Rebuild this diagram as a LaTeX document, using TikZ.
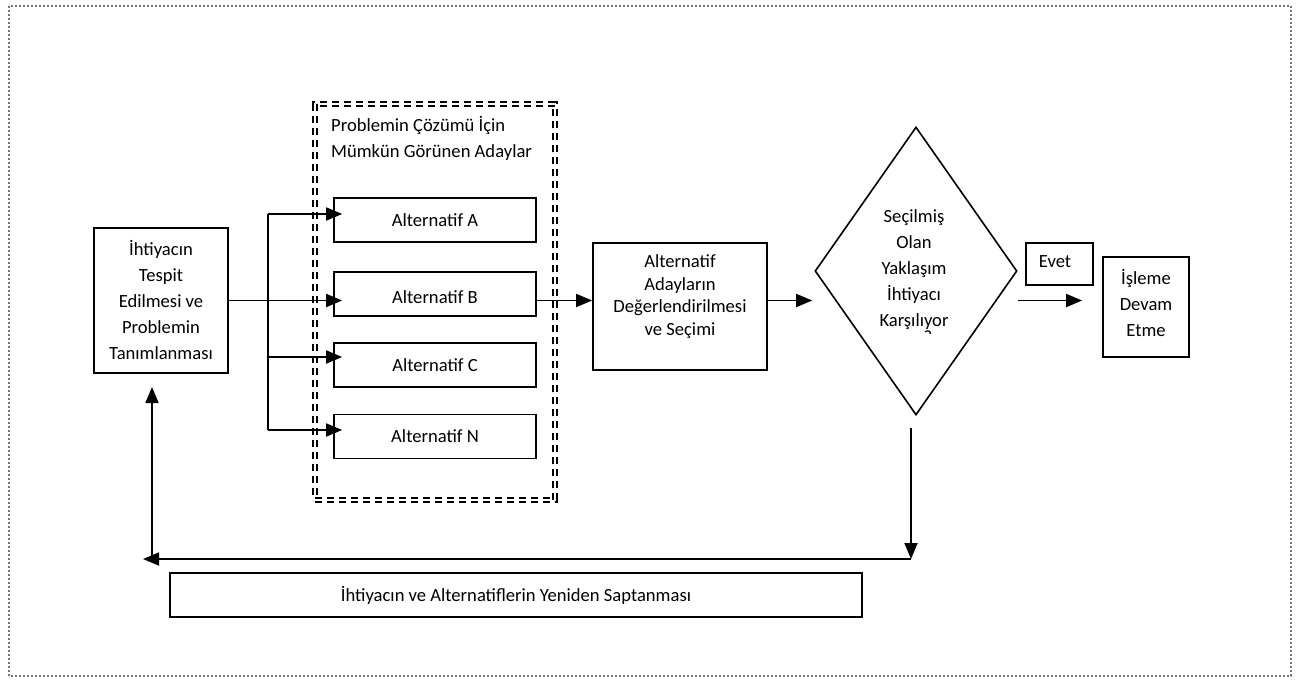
\documentclass[tikz,border=0pt]{standalone}
\usepackage{fontspec}
\setmainfont{Carlito}
\usetikzlibrary{arrows.meta,shapes.geometric}

\tikzset{
  box/.style={draw, line width=1.7pt, rectangle, inner sep=0pt, align=center},
  txt/.style={inner sep=0pt, align=center, font=\fontsize{18.6}{26}\selectfont},
  arr/.style={line width=1.8pt, -{Triangle[length=16pt,width=13pt]}},
  ln/.style={line width=1.8pt},
  group/.style={draw, line width=1.7pt, double distance=2.4pt, dash pattern=on 7pt off 5pt, inner sep=0pt},
  frame/.style={draw=black!55, line width=1.5pt, dash pattern=on 2pt off 2pt}
}

\begin{document}
\begin{tikzpicture}[x=1pt, y=-1pt]
\useasboundingbox (0,0) rectangle (1300,680);

% outer dotted frame
\draw[frame] (9,6) rectangle (1291,676);

% group of candidate solutions
\node[group, minimum width=240pt, minimum height=396pt] (grp) at (435,302) {};
\node[txt, anchor=west, align=left] (grptxt) at (331,138) {Problemin Çözümü İçin\\Mümkün Görünen Adaylar};

% boxes
\node[box, minimum width=134pt, minimum height=145pt] (need) at (161,300.5) {};
\node[txt] (needtxt) at (161,300) {İhtiyacın\\Tespit\\Edilmesi ve\\Problemin\\Tanımlanması};

\node[box, minimum width=202pt, minimum height=44pt] (altA) at (435,220) {};
\node[txt] at (altA) {Alternatif A};
\node[box, minimum width=202pt, minimum height=44pt] (altB) at (435,294) {};
\node[txt] at (435,297) {Alternatif B};
\node[box, minimum width=202pt, minimum height=44pt] (altC) at (435,365) {};
\node[txt] at (altC) {Alternatif C};
\node[box, minimum width=202pt, minimum height=44pt] (altN) at (435,436.5) {};
\node[txt] at (altN) {Alternatif N};

\node[box, minimum width=174pt, minimum height=127pt] (eval) at (680,306.5) {};
\node[txt, font=\fontsize{18.6}{22.5}\selectfont] at (680,296.5) {Alternatif\\Adayların\\Değerlendirilmesi\\ve Seçimi};

\node[diamond, draw, line width=1.6pt, inner sep=0pt, minimum width=202pt, minimum height=288pt] (dec) at (916,271) {};
\node[txt] (dectxt) at (914,269.5) {Seçilmiş\\Olan\\Yaklaşım\\İhtiyacı\\Karşılıyor};
% the last line of the decision text is cut off by its text area
\begin{scope}
  \clip (900,329) rectangle (960,333);
  \node[txt] (q) at (928,337) {?};
\end{scope}

\node[box, minimum width=67pt, minimum height=42pt] (evet) at (1059.5,264) {};
\node[txt] at (1055,262) {Evet};

\node[box, minimum width=86pt, minimum height=100pt] (cont) at (1146,307) {};
\node[txt] at (1146,303) {İşleme\\Devam\\Etme};

\node[box, minimum width=692pt, minimum height=44pt] (redo) at (516,595) {};
\node[txt] at (516,595) {İhtiyacın ve Alternatiflerin Yeniden Saptanması};

% branching to the alternatives
\coordinate (br) at (268,300.5);
\coordinate (ya) at (0,214);
\coordinate (yc) at (0,357);
\coordinate (yn) at (0,430);
\draw[ln] (br |- ya) -- (br |- yn);
\draw[arr] (need.east) -- ([xshift=9pt]altB.west |- need.east);
\draw[arr] (br |- ya) -- ([xshift=9pt]altA.west |- ya);
\draw[arr] (br |- yc) -- ([xshift=9pt]altC.west |- yc);
\draw[arr] (br |- yn) -- ([xshift=9pt]altN.west |- yn);

% main flow
\draw[arr] (altB.east |- need.east) -- (eval.west |- need.east);
\draw[arr] (eval.east |- need.east) -- ([xshift=-2pt]dec.west |- need.east);
\draw[arr] (dec.east |- need.east) -- ([xshift=-20pt]cont.west |- need.east);

% feedback loop
\coordinate (fbtop) at (911,428);
\coordinate (fb) at (911,559);
\coordinate (fbleft) at (143,559);
\coordinate (up) at (152,559);
\draw[arr] (fbtop) -- (fb);
\draw[arr] (fb) -- (fbleft);
\draw[arr] (up) -- (up |- 0,387);
\end{tikzpicture}
\end{document}
